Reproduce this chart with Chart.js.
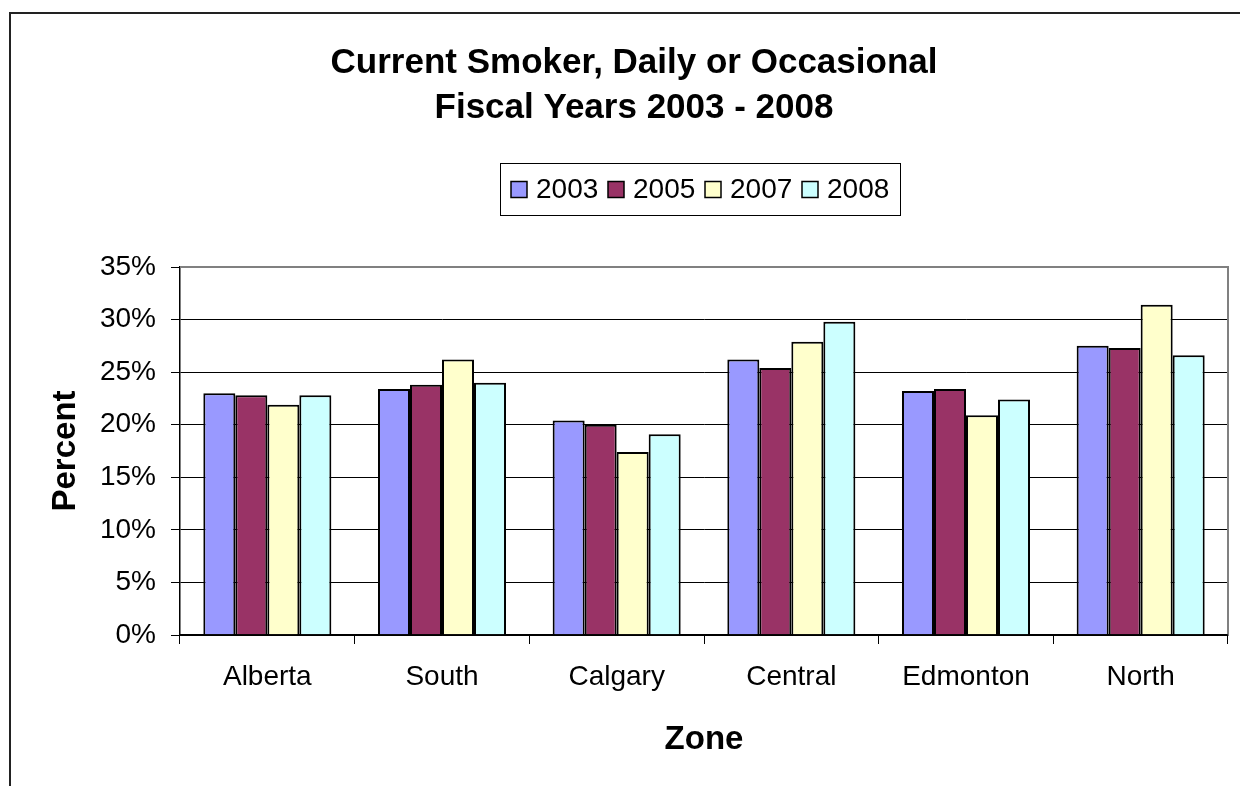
<!DOCTYPE html>
<html>
<head>
<meta charset="utf-8">
<script src="https://cdn.jsdelivr.net/npm/chart.js@4/dist/chart.umd.min.js"></script>
<style>
  html, body { margin: 0; padding: 0; background: #fff; }
  #wrap { width: 1240px; height: 786px; position: relative; }
</style>
</head>
<body>
<div id="wrap"><canvas id="c" width="1240" height="786"></canvas></div>
<script>
const titleLines = ['Current Smoker, Daily or Occasional', 'Fiscal Years 2003 - 2008'];
const zones = ['Alberta', 'South', 'Calgary', 'Central', 'Edmonton', 'North'];
const seriesNames = ['2003', '2005', '2007', '2008'];
const values2003 = [23.0, 23.4, 20.4, 26.2, 23.2, 27.5];
const values2005 = [22.8, 23.8, 20.0, 25.4, 23.4, 27.3];
const values2007 = [21.9, 26.2, 17.4, 27.9, 20.9, 31.4];
const values2008 = [22.8, 24.0, 19.1, 29.8, 22.4, 26.6];
const seriesColors = ['#9999FF', '#993366', '#FFFFCC', '#CCFFFF'];
const yTitle = 'Percent';
const xTitle = 'Zone';

const FONT = "'Liberation Sans', Arial, sans-serif";
const allValues = [values2003, values2005, values2007, values2008];

const decorPlugin = {
  id: 'decor',
  beforeDraw(chart) {
    const ctx = chart.ctx;
    ctx.save();
    ctx.fillStyle = '#fff';
    ctx.fillRect(0, 0, chart.width, chart.height);
    ctx.strokeStyle = '#222';
    ctx.lineWidth = 2;
    ctx.strokeRect(10, 13, 1300, 900);
    ctx.restore();
  },
  afterDatasetsDraw(chart) {
    const ctx = chart.ctx;
    const a = chart.chartArea;
    ctx.save();
    ctx.strokeStyle = '#808080';
    ctx.lineWidth = 2;
    ctx.beginPath();
    ctx.moveTo(a.left, a.top);
    ctx.lineTo(a.right, a.top);
    ctx.lineTo(a.right, a.bottom);
    ctx.stroke();
    ctx.strokeStyle = '#000';
    ctx.lineWidth = 1.5;
    ctx.beginPath();
    ctx.moveTo(a.left, a.bottom);
    ctx.lineTo(a.right, a.bottom);
    ctx.stroke();
    ctx.restore();
  },
  afterDraw(chart) {
    const ctx = chart.ctx;
    ctx.save();
    ctx.fillStyle = '#000';
    ctx.font = 'bold 35px ' + FONT;
    ctx.textAlign = 'center';
    ctx.textBaseline = 'middle';
    ctx.fillText(titleLines[0], 634, 63);
    ctx.fillText(titleLines[1], 634, 108);
    const lx = 500, ly = 163, lw = 400, lh = 52;
    ctx.strokeStyle = '#000';
    ctx.lineWidth = 1;
    ctx.strokeRect(lx + 0.5, ly + 0.5, lw, lh);
    ctx.font = '28px ' + FONT;
    ctx.textAlign = 'left';
    chart.data.datasets.forEach((ds, i) => {
      const sx = 511 + 97 * i;
      const cy = ly + lh / 2 + 0.5;
      ctx.fillStyle = ds.backgroundColor;
      ctx.fillRect(sx, cy - 8, 16, 16);
      ctx.lineWidth = 1.5;
      ctx.strokeStyle = '#000';
      ctx.strokeRect(sx, cy - 8, 16, 16);
      ctx.fillStyle = '#000';
      ctx.fillText(ds.label, sx + 25, cy + 1);
    });
    ctx.restore();
  }
};

new Chart(document.getElementById('c'), {
  type: 'bar',
  data: {
    labels: zones,
    datasets: seriesNames.map((name, i) => ({
      label: name,
      data: allValues[i],
      backgroundColor: seriesColors[i],
      borderColor: '#000',
      borderWidth: 2,
      categoryPercentage: 0.733,
      barPercentage: 1.0
    }))
  },
  options: {
    responsive: false,
    animation: false,
    devicePixelRatio: 1,
    layout: { padding: { left: 10, top: 267, right: 12, bottom: 0 } },
    plugins: {
      legend: { display: false },
      title: { display: false },
      tooltip: { enabled: false }
    },
    scales: {
      x: {
        afterFit(s) { s.height = 151; },
        grid: { display: true, drawOnChartArea: false, drawTicks: true, tickLength: 9, color: '#000', lineWidth: 1, offset: true },
        border: { display: true, color: '#000', width: 1.5 },
        ticks: { color: '#000', font: { family: FONT, size: 28 }, padding: 16, maxRotation: 0 },
        title: { display: true, text: xTitle, color: '#000', font: { family: FONT, size: 33, weight: 'bold' }, padding: { top: 0, bottom: 26 } }
      },
      y: {
        min: 0, max: 35,
        afterFit(s) { s.width = 170; },
        grid: { color: '#000', lineWidth: 1, drawTicks: true, tickLength: 9 },
        border: { display: true, color: '#000', width: 1.5 },
        ticks: { stepSize: 5, color: '#000', font: { family: FONT, size: 28 }, padding: 15, callback: v => v + '%' },
        title: { display: true, text: yTitle, color: '#000', font: { family: FONT, size: 33, weight: 'bold' }, padding: { top: 36, bottom: 0 } }
      }
    }
  },
  plugins: [decorPlugin]
});
</script>
</body>
</html>
